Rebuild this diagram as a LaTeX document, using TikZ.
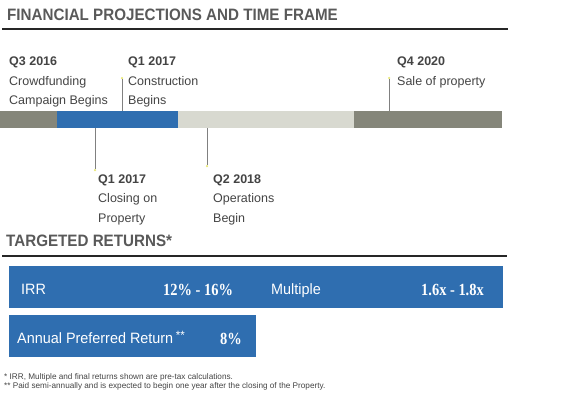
\documentclass[tikz,border=0pt]{standalone}
\usepackage{fontspec}
\setmainfont{Liberation Sans}
\newfontfamily\headfont[FakeStretch=0.92]{Liberation Sans}
\newfontfamily\narrowfont[FakeStretch=0.96]{Liberation Sans}
\newfontfamily\numfont[FakeStretch=0.85]{Liberation Serif}

\definecolor{txtgray}{HTML}{444444}
\definecolor{headgray}{HTML}{595959}
\definecolor{olive}{HTML}{85867A}
\definecolor{pale}{HTML}{D8D9D0}
\definecolor{boxblue}{HTML}{2F6EB0}
\definecolor{tick}{HTML}{808080}
\definecolor{dotyellow}{HTML}{E8E878}

\tikzset{
  heading/.style={anchor=base west, inner sep=0pt, text=headgray, font=\headfont\bfseries\fontsize{16.5}{16.5}\selectfont},
  when/.style={anchor=base west, inner sep=0pt, text=txtgray, font=\bfseries\fontsize{12.5}{12.5}\selectfont},
  what/.style={anchor=base west, inner sep=0pt, text=txtgray, font=\fontsize{12.5}{12.5}\selectfont},
  intxt/.style={anchor=base west, inner sep=0pt, text=white, font=\narrowfont\fontsize{15}{15}\selectfont},
  innum/.style={anchor=base west, inner sep=0pt, text=white, font=\numfont\bfseries\fontsize{17}{17}\selectfont},
  note/.style={anchor=base west, inner sep=0pt, text=txtgray, font=\fontsize{8.2}{8.2}\selectfont},
  ticker/.style={draw=tick, line width=0.8pt},
  dot/.style={circle, fill=dotyellow, inner sep=0pt, minimum size=2.5pt}
}

\begin{document}
\begin{tikzpicture}[x=1pt,y=-1pt]
\useasboundingbox (0,0) rectangle (581,399);

% headings
\node[heading] (head1) at (7,20.5) {FINANCIAL PROJECTIONS AND TIME FRAME};
\draw[line width=2pt, black!85] (2,28.5) -- (508,28.5);
\node[heading] (head2) at (6,246.5) {TARGETED RETURNS*};
\draw[line width=2pt, black!85] (2,256) -- (507,256);

% timeline bar
\fill[olive] (0,111) rectangle (57,128);
\fill[boxblue] (57,111) rectangle (178,128);
\fill[pale] (178,111) rectangle (354,128);
\fill[olive] (354,111) rectangle (502,128);
\coordinate (b1) at (122,111);
\coordinate (b2) at (389,111);
\coordinate (b3) at (95,128);
\coordinate (b4) at (207,128);

% milestones above
\node[when] (q316) at (9,65) {Q3 2016};
\node[what] (crowd) at (9,85) {Crowdfunding};
\node[what] (camp) at (9,104) {Campaign Begins};

\node[when] (q117a) at (128,65) {Q1 2017};
\node[what] (constr) at (128,85) {Construction};
\node[what] (begins) at (128,104) {Begins};
\node[dot] (d1) at (122,78) {};
\draw[ticker] (d1) -- (b1);

\node[when] (q420) at (397,65) {Q4 2020};
\node[what] (sale) at (397,85) {Sale of property};
\node[dot] (d2) at (389,78) {};
\draw[ticker] (d2) -- (b2);

% milestones below
\node[dot] (d3) at (95,170) {};
\draw[ticker] (b3) -- (d3);
\node[when] (q117b) at (98,183) {Q1 2017};
\node[what] (closing) at (98,202) {Closing on};
\node[what] (prop) at (98,222) {Property};

\node[dot] (d4) at (207,166) {};
\draw[ticker] (b4) -- (d4);
\node[when] (q218) at (213,183) {Q2 2018};
\node[what] (ops) at (213,202) {Operations};
\node[what] (begin) at (213,222) {Begin};

% returns
\fill[boxblue] (9,266) rectangle (503,308);
\node[intxt] (irr) at (21,294) {IRR};
\node[innum] (irrval) at (163,295) {12\% - 16\%};
\node[intxt] (mult) at (271,294) {Multiple};
\node[innum] (multval) at (421,295) {1.6x - 1.8x};

\fill[boxblue] (9,315) rectangle (256,357);
\node[intxt] (apr) at (17,343) {Annual Preferred Return\,\raisebox{4pt}{\fontsize{12}{12}\selectfont**}};
\node[innum] (aprval) at (220,344) {8\%};

% footnotes
\node[note] (n1) at (4,379) {* IRR, Multiple and final returns shown are pre-tax calculations.};
\node[note] (n2) at (4,388.5) {** Paid semi-annually and is expected to begin one year after the closing of the Property.};
\end{tikzpicture}
\end{document}
